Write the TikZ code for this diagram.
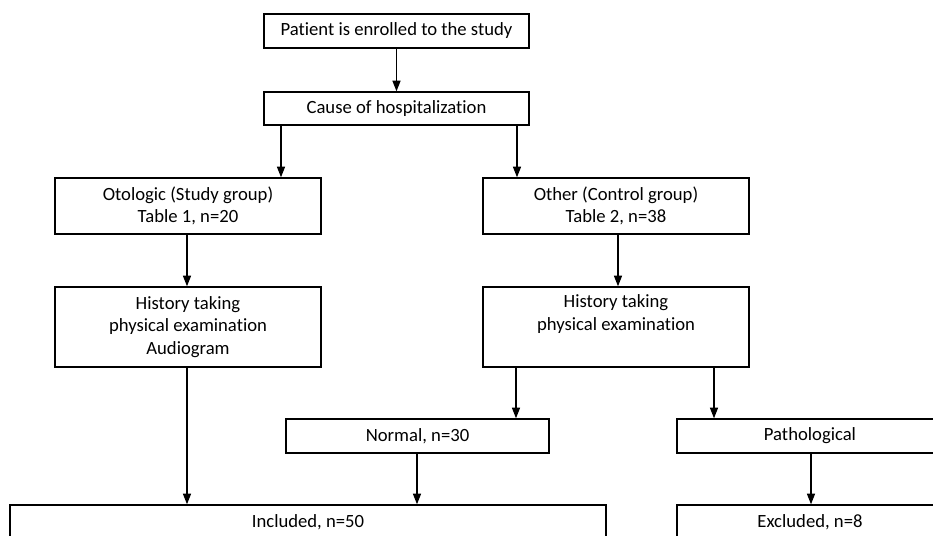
\documentclass[tikz,border=0pt]{standalone}
\usepackage{fontspec}
\setmainfont{Carlito}[Ligatures=NoCommon]
\usetikzlibrary{arrows.meta}
\begin{document}
\begin{tikzpicture}[x=0.75pt,y=-0.75pt,
  box/.style={draw=black,line width=1pt,fill=white,inner sep=0pt,align=center,font=\fontsize{14}{17}\selectfont},
  arr/.style={line width=1pt,-{Triangle[length=8pt,width=6pt]}}]
\useasboundingbox (0,0) rectangle (933,536);
\clip (0,0) rectangle (933,536);
\node[box,minimum width=265*0.75pt,minimum height=34*0.75pt] (b1) at (396.5,31) {Patient is enrolled to the study};
\node[box,minimum width=265*0.75pt,minimum height=33*0.75pt] (b2) at (396.5,108.5) {Cause of hospitalization};
\node[box,minimum width=266*0.75pt,minimum height=56*0.75pt] (otol) at (188,206) {Otologic (Study group)\\Table 1, n=20};
\node[box,minimum width=266*0.75pt,minimum height=56*0.75pt] (other) at (616,206) {Other (Control group)\\Table 2, n=38};
\node[box,minimum width=266*0.75pt,minimum height=80*0.75pt] (h1) at (188,327) {History taking\\physical examination\\Audiogram};
\node[box,minimum width=266*0.75pt,minimum height=80*0.75pt] (h2) at (616,327) {History taking\\physical examination\\\strut};
\node[box,minimum width=263*0.75pt,minimum height=34*0.75pt] (normal) at (417.5,436) {Normal, n=30};
\node[box,minimum width=266*0.75pt,minimum height=34*0.75pt] (patho) at (810,436) {Pathological};
\node[box,minimum width=596*0.75pt,minimum height=34*0.75pt] (incl) at (308,522) {Included, n=50};
\node[box,minimum width=266*0.75pt,minimum height=34*0.75pt] (excl) at (810,522) {Excluded, n=8};
\draw[arr] (b1.south) -- (b2.north);
\draw[arr] (b2.south -| 281,0) -- (otol.north -| 281,0);
\draw[arr] (b2.south -| 517,0) -- (other.north -| 517,0);
\draw[arr] (otol.south -| 187,0) -- (h1.north -| 187,0);
\draw[arr] (other.south -| 618,0) -- (h2.north -| 618,0);
\draw[arr] (h1.south -| 187,0) -- (incl.north -| 187,0);
\draw[arr] (h2.south -| 516,0) -- (normal.north -| 516,0);
\draw[arr] (h2.south -| 714,0) -- (patho.north -| 714,0);
\draw[arr] (normal.south -| 417,0) -- (incl.north -| 417,0);
\draw[arr] (patho.south -| 811,0) -- (excl.north -| 811,0);
\end{tikzpicture}
\end{document}
